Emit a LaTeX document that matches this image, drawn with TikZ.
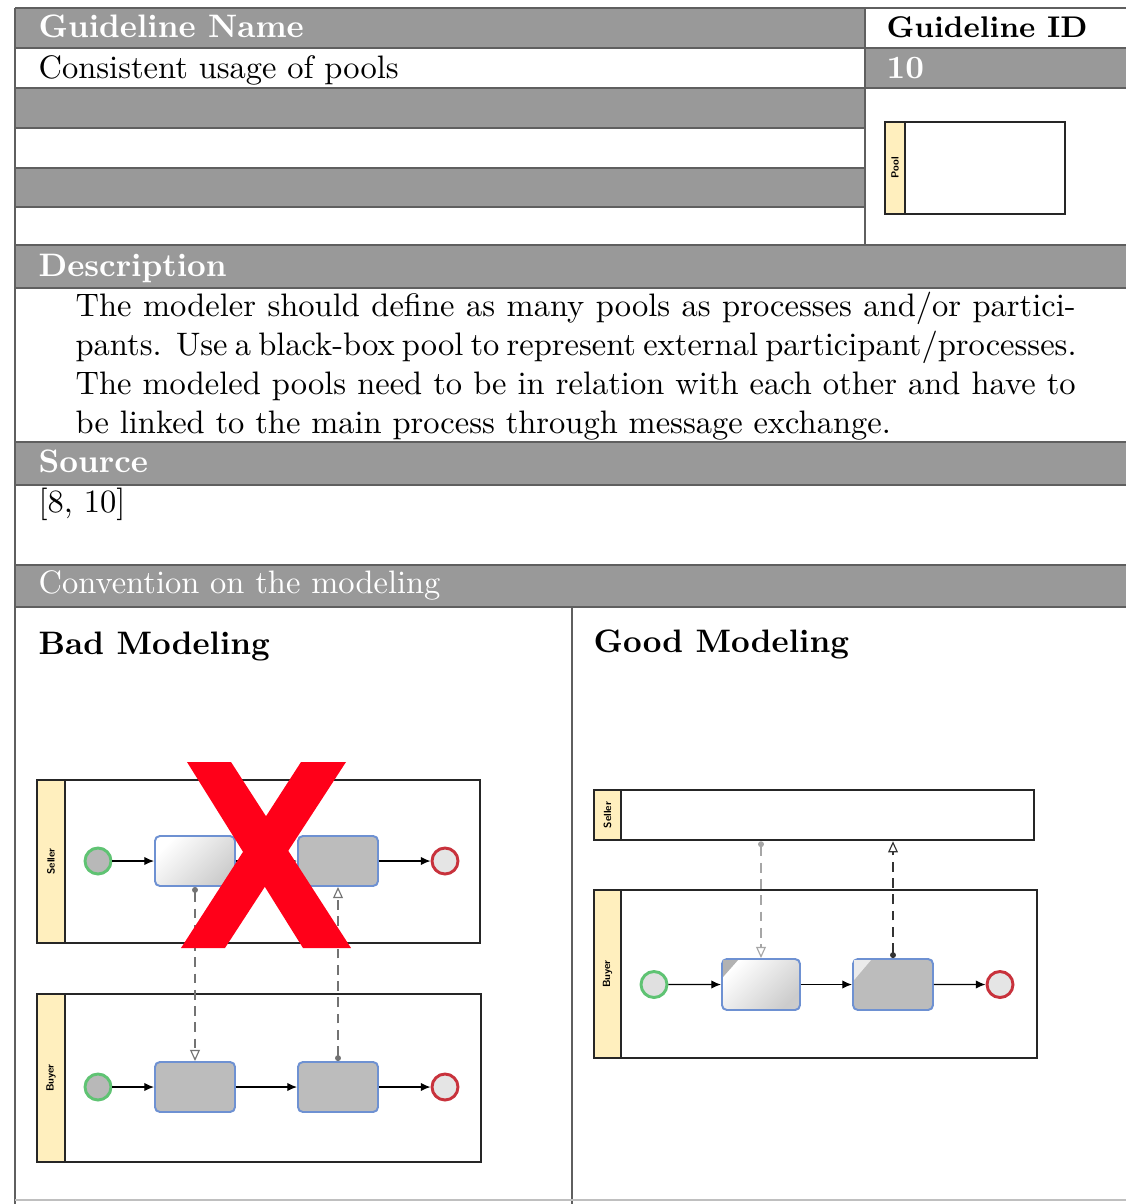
\documentclass[tikz,border=0pt]{standalone}
\usetikzlibrary{arrows.meta,fit,calc}
\definecolor{hdr}{RGB}{153,153,153}
\definecolor{rule}{RGB}{95,95,95}
\definecolor{bandyellow}{RGB}{255,239,190}
\definecolor{taskblue}{RGB}{110,145,210}
\definecolor{taskgray}{RGB}{188,188,188}
\definecolor{evgreen}{RGB}{95,195,115}
\definecolor{evred}{RGB}{200,50,60}
\definecolor{xred}{RGB}{255,0,25}
\begin{document}
\begin{tikzpicture}[x=0.3077pt,y=-0.3077pt,
  hdrtext/.style={anchor=base west, inner sep=0, text=white, font=\bfseries},
  hdrplain/.style={anchor=base west, inner sep=0, text=white},
  bodytext/.style={anchor=base west, inner sep=0},
  tablerule/.style={draw=rule, line width=0.5pt},
  poolbox/.style={draw=black!85, line width=0.8pt, inner sep=0, fill=white},
  bandbox/.style={draw=black!85, line width=0.8pt, inner sep=0, fill=bandyellow},
  bandlabel/.style={rotate=90, inner sep=0, font=\fontsize{3.2}{4}\selectfont\sffamily\bfseries},
  taskbox/.style={draw=taskblue, line width=0.6pt, rounded corners=1.5pt, inner sep=0},
  taskgray/.style={taskbox, fill=taskgray},
  tasklight/.style={taskbox, left color=white, right color=black!20, shading angle=45},
  startev/.style={circle, draw=evgreen, line width=0.9pt, minimum size=8pt, inner sep=0},
  endev/.style={circle, draw=evred, line width=0.9pt, minimum size=8pt, inner sep=0, fill=black!10},
  seqflow/.style={-{Latex[length=3pt,width=2.6pt]}, line width=0.4pt},
  msgflow/.style={{Circle[length=1.8pt]}-{Triangle[open,length=3.4pt,width=3pt]}, densely dashed, line width=0.35pt, draw=black!55}
]
\useasboundingbox (0,0) rectangle (1126,1204);
\fill[white] (0,0) rectangle (1126,1204);

% ---------- table backgrounds ----------
\fill[hdr] (15,8) rectangle (865,48);
\fill[hdr] (865,48) rectangle (1126,88);
\fill[hdr] (15,88) rectangle (865,128);
\fill[hdr] (15,168) rectangle (865,207);
\fill[hdr] (15,245) rectangle (1126,288);
\fill[hdr] (15,442) rectangle (1126,485);
\fill[hdr] (15,565) rectangle (1126,607);

% ---------- table rules ----------
\draw[tablerule] (15,8) -- (1126,8);
\draw[tablerule] (15,8) -- (15,1204);
\draw[tablerule] (865,8) -- (865,245);
\foreach \yy in {48,88,128,168,207} {\draw[tablerule] (15,\yy) -- (865,\yy);}
\draw[tablerule] (865,48) -- (1126,48);
\draw[tablerule] (865,88) -- (1126,88);
\foreach \yy in {245,288,442,485,565,607} {\draw[tablerule] (15,\yy) -- (1126,\yy);}
\draw[tablerule] (572,607) -- (572,1204);
\draw[draw=black!25, line width=0.5pt] (15,1200) -- (1126,1200);

% ---------- texts ----------
\node[hdrtext] (gname) at (38,37) {Guideline Name};
\node[bodytext, font=\fontsize{9.2pt}{11pt}\selectfont\bfseries] (gid) at (886,37) {Guideline ID};
\node[bodytext] (gtitle) at (38,78) {Consistent usage of pools};
\node[hdrtext] (gnum) at (886,78) {10};
\node[hdrtext] (hdesc) at (38,276) {Description};
\node[bodytext] (d1) at (75,316) {\makebox[307.7pt][s]{The modeler should define as many pools as processes and/or partici-}};
\node[bodytext] (d2) at (75,355) {\makebox[307.7pt][s]{pants.\ \ Use a black-box pool to represent external participant/processes.}};
\node[bodytext] (d3) at (75,394) {\makebox[307.7pt][s]{The modeled pools need to be in relation with each other and have to}};
\node[bodytext] (d4) at (75,433) {be linked to the main process through message exchange.};
\node[hdrtext] (hsrc) at (38,472) {Source};
\node[bodytext] (src) at (38,512) {[8, 10]};
\node[hdrplain] (hconv) at (38,593) {Convention on the modeling};
\node[bodytext, font=\bfseries] (bad) at (38,654) {Bad Modeling};
\node[bodytext, font=\bfseries] (good) at (593,652) {Good Modeling};

% ---------- pool icon ----------
\node[poolbox, fit={(905,122) (1065,214)}] (iconpool) {};
\node[bandbox, fit={(885,122) (905,214)}] (iconband) {};
\node[bandlabel] (iconlbl) at (iconband) {Pool};

% ---------- bad modeling ----------
\node[poolbox, fit={(65,780) (480,943)}] (bsell) {};
\node[bandbox, fit={(37,780) (65,943)}] (bsellband) {};
\node[bandlabel] (bselllbl) at (bsellband) {Seller};
\node[poolbox, fit={(65,994) (481,1162)}] (bbuy) {};
\node[bandbox, fit={(37,994) (65,1162)}] (bbuyband) {};
\node[bandlabel] (bbuylbl) at (bbuyband) {Buyer};

\node[startev, fill=black!28] (bs1) at (98,861) {};
\node[tasklight, fit={(155,836) (235,886)}] (bt1) {};
\node[taskgray, fit={(298,836) (378,886)}] (bt2) {};
\node[endev] (be1) at (445,861) {};
\draw[seqflow] (bs1) -- (bt1);
\draw[seqflow] (bt1) -- (bt2);
\draw[seqflow] (bt2) -- (be1);

\node[startev, fill=black!28] (bs2) at (98,1087) {};
\node[taskgray, fit={(155,1062) (235,1112)}] (bu1) {};
\node[taskgray, fit={(298,1062) (378,1112)}] (bu2) {};
\node[endev] (be2) at (445,1087) {};
\draw[seqflow] (bs2) -- (bu1);
\draw[seqflow] (bu1) -- (bu2);
\draw[seqflow] (bu2) -- (be2);

\draw[msgflow] (bt1.south) -- (bu1.north);
\draw[msgflow] (bu2.north) -- (bt2.south);

% red cross
\fill[xred] (187,762) -- (231,762) -- (351,948) -- (303,948) -- cycle;
\fill[xred] (301,762) -- (346,762) -- (225,948) -- (181,948) -- cycle;

% ---------- good modeling ----------
\node[poolbox, fit={(621,790) (1034,840)}] (gsell) {};
\node[bandbox, fit={(594,790) (621,840)}] (gsellband) {};
\node[bandlabel] (gselllbl) at (gsellband) {Seller};
\node[poolbox, fit={(621,890) (1037,1058)}] (gbuy) {};
\node[bandbox, fit={(594,890) (621,1058)}] (gbuyband) {};
\node[bandlabel] (gbuylbl) at (gbuyband) {Buyer};

\node[startev, fill=black!12] (gs) at (654,984.5) {};
\node[tasklight, fit={(722,959) (800,1010)}] (gt1) {};
\node[taskgray, fit={(853,959) (933,1010)}] (gt2) {};
\node[endev] (ge) at (1000,984.5) {};
\fill[black!30] ($(gt1.north west)+(2,2)$) -- ++(15,0) -- ++(-15,17) -- cycle;
\fill[black!8] ($(gt2.north west)+(2,2)$) -- ++(17,0) -- ++(-17,20) -- cycle;
\draw[seqflow] (gs) -- (gt1);
\draw[seqflow] (gt1) -- (gt2);
\draw[seqflow] (gt2) -- (ge);

\draw[msgflow, draw=black!35] (gsell.south -| gt1.north) -- (gt1.north);
\draw[msgflow, draw=black!80] (gt2.north) -- (gt2.north |- gsell.south);
\end{tikzpicture}
\end{document}
